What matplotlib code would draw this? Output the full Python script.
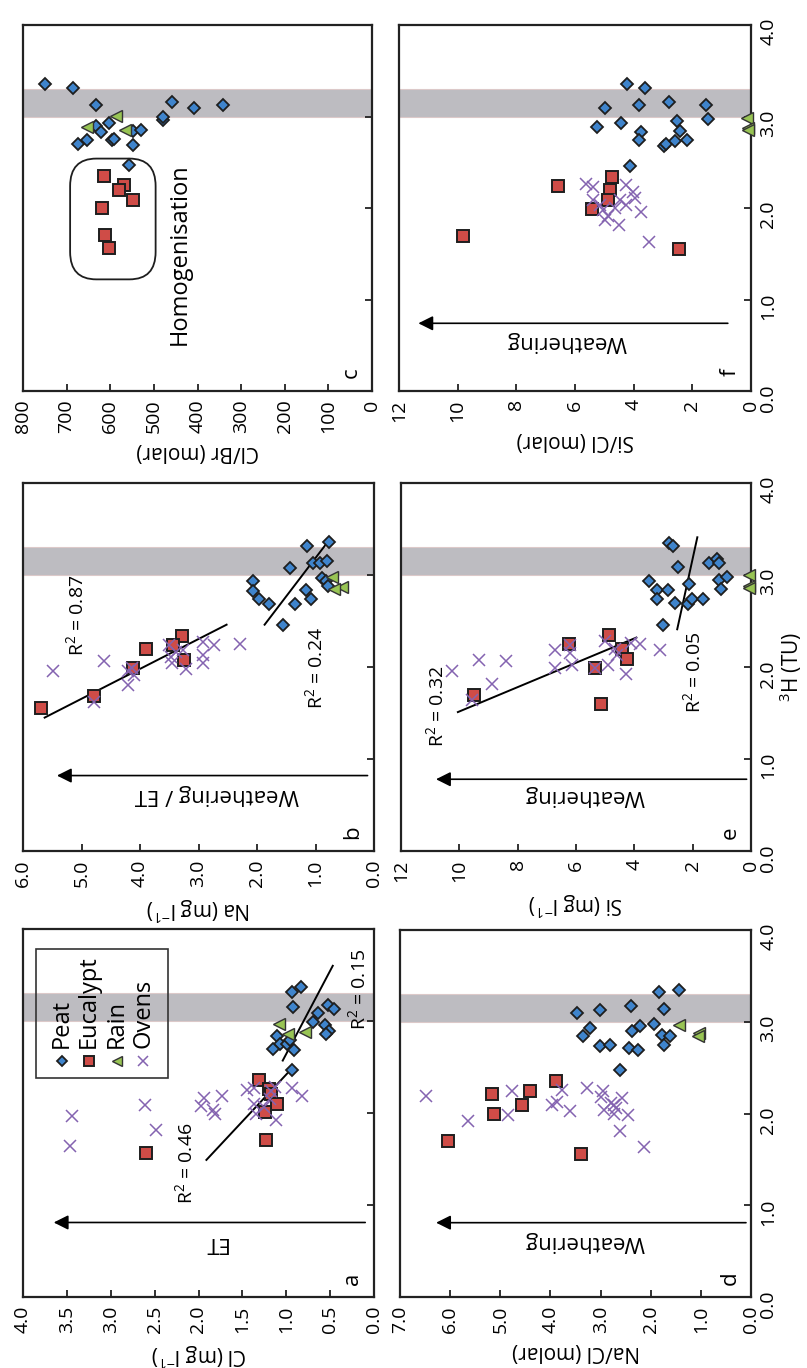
import numpy as np
import matplotlib
matplotlib.use('Agg')
import matplotlib.pyplot as plt
from matplotlib.patches import Rectangle, FancyBboxPatch

plt.rcParams['font.family'] = ['Open Sans', 'DejaVu Sans']
plt.rcParams['mathtext.fontset'] = 'custom'
plt.rcParams['mathtext.rm'] = 'Open Sans'
plt.rcParams['mathtext.it'] = 'Open Sans:italic'
plt.rcParams['mathtext.bf'] = 'Open Sans:bold'

# ---------------- data ----------------
h_ticks = [0, 1, 2, 3, 4]
h_ticklabels = ['0.0', '1.0', '2.0', '3.0', '4.0']

# panel a : Cl (mg/l)
a_ticks = [0, 0.5, 1, 1.5, 2, 2.5, 3, 3.5, 4]
a_ticklabels = ['0.0', '0.5', '1.0', '1.5', '2.0', '2.5', '3.0', '3.5', '4.0']
a_peat_h = [3.32, 3.37, 3.15, 3.17, 3.13, 3.09, 2.99, 2.96, 2.89, 2.86, 2.84, 2.75, 2.70, 2.75, 2.79, 2.69, 2.47]
a_peat_v = [0.94, 0.83, 0.92, 0.52, 0.46, 0.64, 0.70, 0.56, 0.51, 0.55, 1.10, 1.07, 1.15, 0.99, 0.96, 0.91, 0.93]
a_rain_h = [2.97, 2.86, 2.88]
a_rain_v = [1.08, 0.98, 0.79]
a_euc_h = [2.36, 2.26, 2.21, 2.10, 2.01, 1.71, 1.56]
a_euc_v = [1.31, 1.20, 1.17, 1.10, 1.24, 1.23, 2.60]
a_ov_h = [1.97, 1.64, 2.09, 1.81, 2.16, 2.08, 2.19, 2.03, 1.99, 2.25, 2.27, 2.10, 1.99, 2.24, 2.28, 2.15, 2.06, 1.92, 2.27, 2.19]
a_ov_v = [3.44, 3.46, 2.61, 2.49, 1.94, 1.97, 1.73, 1.84, 1.81, 1.45, 1.37, 1.37, 1.34, 1.17, 1.13, 1.18, 1.25, 1.12, 0.93, 0.82]
a_fit1_h = [1.49, 2.50]
a_fit1_v = [1.91, 0.92]
a_fit2_h = [2.57, 3.60]
a_fit2_v = [1.04, 0.47]

# panel b : Na (mg/l)
b_ticks = [0, 1, 2, 3, 4, 5, 6]
b_ticklabels = ['0.0', '1.0', '2.0', '3.0', '4.0', '5.0', '6.0']
b_peat_h = [3.36, 3.31, 3.08, 3.13, 3.13, 3.15, 2.97, 2.93, 2.88, 2.93, 2.83, 2.74, 2.69, 2.84, 2.74, 2.68, 2.46]
b_peat_v = [0.77, 1.14, 1.43, 1.04, 0.92, 0.80, 0.89, 0.82, 0.78, 2.06, 2.06, 1.97, 1.80, 1.17, 1.07, 1.35, 1.56]
b_rain_h = [2.98, 2.87, 2.85]
b_rain_v = [0.72, 0.54, 0.68]
b_euc_h = [2.34, 2.24, 2.20, 2.08, 1.99, 1.69, 1.55]
b_euc_v = [3.28, 3.43, 3.90, 3.24, 4.12, 4.78, 5.69]
b_ov_h = [1.96, 2.07, 1.62, 1.96, 1.91, 1.80, 2.24, 2.11, 2.04, 2.16, 1.98, 2.13, 2.04, 2.27, 2.24, 2.25, 2.18, 1.99]
b_ov_v = [5.49, 4.62, 4.78, 4.21, 4.10, 4.21, 3.50, 3.47, 3.45, 3.38, 3.21, 2.93, 2.93, 2.93, 2.73, 2.29, 3.27, 4.14]
b_fit1_h = [1.45, 2.46]
b_fit1_v = [5.63, 2.52]
b_fit2_h = [2.46, 3.36]
b_fit2_v = [1.87, 0.79]

# panel c : Cl/Br (molar)
c_ticks = [0, 100, 200, 300, 400, 500, 600, 700, 800]
c_ticklabels = ['0', '100', '200', '300', '400', '500', '600', '700', '800']
c_peat_h = [3.35, 3.31, 3.13, 3.16, 3.09, 3.13, 2.96, 2.99, 2.90, 2.93, 2.83, 2.84, 2.85, 2.74, 2.70, 2.74, 2.75, 2.69, 2.47]
c_peat_v = [750, 685, 632, 458, 408, 342, 479, 480, 632, 602, 622, 548, 529, 653, 673, 596, 591, 547, 556]
c_rain_h = [3.01, 2.88, 2.85]
c_rain_v = [586, 654, 566]
c_euc_h = [2.35, 2.25, 2.20, 2.09, 2.00, 1.70, 1.56]
c_euc_v = [614, 568, 581, 547, 619, 612, 602]

# panel d : Na/Cl (molar)
d_ticks = [0, 1, 2, 3, 4, 5, 6, 7]
d_ticklabels = ['0.0', '1.0', '2.0', '3.0', '4.0', '5.0', '6.0', '7.0']
d_peat_h = [3.32, 3.35, 3.17, 3.14, 3.10, 3.13, 2.98, 2.95, 2.90, 2.93, 2.84, 2.86, 2.84, 2.75, 2.74, 2.75, 2.71, 2.69, 2.47]
d_peat_v = [1.83, 1.43, 2.39, 1.74, 3.47, 3.02, 1.93, 2.21, 2.38, 3.22, 3.36, 1.78, 1.61, 1.73, 3.02, 2.82, 2.43, 2.26, 2.61]
d_rain_h = [2.97, 2.88, 2.85]
d_rain_v = [1.43, 1.03, 1.05]
d_euc_h = [2.35, 2.25, 2.21, 2.09, 1.99, 1.70, 1.56]
d_euc_v = [3.89, 4.40, 5.16, 4.57, 5.13, 6.04, 3.39]
d_ov_h = [2.19, 1.92, 2.25, 1.98, 2.26, 2.13, 2.09, 2.03, 2.28, 2.24, 2.18, 2.17, 2.09, 2.06, 2.04, 1.99, 1.98, 1.81, 1.63, 2.11]
d_ov_v = [6.48, 5.65, 4.77, 4.84, 3.76, 3.87, 3.96, 3.61, 3.27, 2.96, 2.99, 2.58, 2.74, 2.69, 2.94, 2.73, 2.46, 2.61, 2.13, 2.79]

# panel e : Si (mg/l)
e_ticks = [0, 2, 4, 6, 8, 10, 12]
e_ticklabels = ['0', '2', '4', '6', '8', '10', '12']
e_peat_h = [3.35, 3.32, 3.09, 3.13, 3.17, 3.13, 2.93, 2.84, 2.74, 2.84, 2.90, 2.70, 2.69, 2.74, 2.74, 2.95, 2.98, 2.85, 2.46]
e_peat_v = [2.81, 2.69, 2.50, 1.43, 1.16, 1.09, 3.49, 3.24, 3.24, 2.83, 2.12, 2.60, 2.15, 2.02, 1.64, 1.09, 0.83, 1.03, 3.01]
e_rain_h = [3.00, 2.88, 2.86]
e_rain_v = [0.08, 0.06, 0.06]
e_euc_h = [2.35, 2.25, 2.20, 2.09, 1.99, 1.70, 1.60]
e_euc_v = [4.87, 6.24, 4.44, 4.25, 5.36, 9.50, 5.13]
e_ov_h = [1.96, 2.08, 2.06, 1.81, 1.64, 2.19, 1.99, 2.24, 2.15, 2.02, 1.99, 2.28, 2.02, 2.13, 1.92, 2.26, 2.25, 2.18, 2.20]
e_ov_v = [10.25, 9.33, 8.39, 8.89, 9.57, 6.73, 6.73, 6.19, 6.19, 6.13, 5.36, 5.02, 4.90, 4.61, 4.27, 4.10, 3.81, 3.13, 4.67]
e_fit1_h = [1.51, 2.32]
e_fit1_v = [10.05, 3.93]
e_fit2_h = [2.41, 3.41]
e_fit2_v = [2.53, 1.84]

# panel f : Si/Cl (molar)
f_ticks = [0, 2, 4, 6, 8, 10, 12]
f_ticklabels = ['0', '2', '4', '6', '8', '10', '12']
f_peat_h = [3.35, 3.31, 3.09, 3.13, 3.16, 3.13, 2.97, 2.95, 2.89, 2.93, 2.83, 2.84, 2.74, 2.68, 2.70, 2.73, 2.74, 2.46]
f_peat_v = [4.23, 3.63, 4.97, 3.83, 2.79, 1.53, 1.46, 2.51, 5.24, 4.42, 3.74, 2.41, 3.83, 2.98, 2.89, 2.58, 2.19, 4.11]
f_rain_h = [2.98, 2.87, 2.85]
f_rain_v = [0.12, 0.09, 0.09]
f_euc_h = [2.34, 2.24, 2.20, 2.09, 1.99, 1.69, 1.55]
f_euc_v = [4.73, 6.57, 4.82, 4.89, 5.43, 9.83, 2.47]
f_ov_h = [2.26, 2.23, 2.25, 2.17, 2.11, 1.96, 2.09, 2.03, 2.00, 1.98, 1.91, 1.81, 1.63, 2.09, 2.03, 1.87]
f_ov_v = [5.64, 5.39, 4.25, 4.03, 3.97, 3.74, 4.48, 4.25, 4.65, 5.05, 4.88, 4.50, 3.48, 5.39, 5.16, 4.99]

band_h = [3.0, 3.3]
series_names = ['Peat', 'Eucalypt', 'Rain', 'Ovens']

# ---------------- styles ----------------
PEAT = dict(marker='D', ms=6.2, mfc='#3f84cc', mec='#1e1e1e', mew=1.3, ls='none', zorder=3)
EUC = dict(marker='s', ms=8.2, mfc='#cf4c47', mec='#1e1e1e', mew=1.4, ls='none', zorder=3)
RAIN = dict(marker='<', ms=8.5, mfc='#98c454', mec='#333333', mew=1.0, ls='none', zorder=3)
OVENS = dict(marker='x', ms=9, mec='#8463b0', mew=1.1, ls='none', zorder=4)

W, H = 807, 1368
fig = plt.figure(figsize=(W / 100, H / 100), dpi=100)


def rect(x0, x1, y0, y1):
    return [x0 / W, 1 - y1 / H, (x1 - x0) / W, (y1 - y0) / H]


TICK_FS = 14
LABEL_FS = 15
ANN_FS = 16


def setup(ax, ticks, ticklabels, vlabel, show_h_labels, letter):
    ax.set_xlim(ticks[-1], 0)
    ax.set_ylim(h_ticks[0], h_ticks[-1])
    ax.axhspan(band_h[0], band_h[1], facecolor='#bdbcc1', edgecolor='#dcc9c9', lw=0.8, zorder=0)
    ax.set_xticks(ticks)
    ax.set_xticklabels(ticklabels, rotation=90, fontsize=TICK_FS)
    ax.yaxis.tick_right()
    ax.set_yticks(h_ticks)
    if show_h_labels:
        ax.set_yticklabels(h_ticklabels, rotation=90, fontsize=TICK_FS)
    else:
        ax.set_yticklabels([])
    ax.tick_params(axis='both', direction='in', length=5, width=1.3, pad=6, color='#222222')
    for s in ax.spines.values():
        s.set_linewidth(1.6)
        s.set_color('#222222')
    ax.set_xlabel(vlabel, rotation=180, fontsize=LABEL_FS, labelpad=6)
    ax.text(0.94, 0.05, letter, rotation=90, transform=ax.transAxes, fontsize=ANN_FS,
            ha='center', va='center')


def scatter_all(ax, peat, euc, rain, ov):
    ax.plot(peat[1], peat[0], **PEAT)
    ax.plot(euc[1], euc[0], **EUC)
    ax.plot(rain[1], rain[0], clip_on=False, **RAIN)
    if ov is not None:
        ax.plot(ov[1], ov[0], **OVENS)


def fit_line(ax, hs, vs):
    ax.plot(vs, hs, color='black', lw=1.4, zorder=2)


def arrow(ax, h, v_tail, v_head, label, lv, lh):
    ax.annotate('', xy=(v_head, h), xytext=(v_tail, h),
                arrowprops=dict(arrowstyle='-|>', color='black', lw=1.2,
                                mutation_scale=22, shrinkA=0, shrinkB=0))
    ax.text(lv, lh, label, rotation=180, ha='center', va='center', fontsize=ANN_FS)


def r2(ax, v, h, txt):
    ax.text(v, h, r'R$^{2}$ = ' + txt, rotation=90, ha='center', va='center', fontsize=TICK_FS)


mg = r' (mg l$^{-1}$)'

# ---- panel c (top-left)
ax_c = fig.add_axes(rect(23, 372, 25, 391))
setup(ax_c, c_ticks, c_ticklabels, 'Cl/Br (molar)', False, 'c')
scatter_all(ax_c, (c_peat_h, c_peat_v), (c_euc_h, c_euc_v), (c_rain_h, c_rain_v), None)
ax_c.add_patch(FancyBboxPatch((0.175, 0.345), 0.165, 0.25, boxstyle='round,pad=0.04,rounding_size=0.075',
                              transform=ax_c.transAxes, fill=False, ec='#1e1e1e', lw=1.3, zorder=2))
ax_c.text(441, 1.50, 'Homogenisation', rotation=90, ha='center', va='center', fontsize=ANN_FS + 1)

# ---- panel f (top-right)
ax_f = fig.add_axes(rect(399, 751, 25, 391))
setup(ax_f, f_ticks, f_ticklabels, 'Si/Cl (molar)', True, 'f')
scatter_all(ax_f, (f_peat_h, f_peat_v), (f_euc_h, f_euc_v), (f_rain_h, f_rain_v), (f_ov_h, f_ov_v))
arrow(ax_f, 0.74, 0.79, 11.34, 'Weathering', 6.3, 0.54)

# ---- panel b (middle-left)
ax_b = fig.add_axes(rect(23, 374, 483, 851))
setup(ax_b, b_ticks, b_ticklabels, 'Na' + mg, False, 'b')
scatter_all(ax_b, (b_peat_h, b_peat_v), (b_euc_h, b_euc_v), (b_rain_h, b_rain_v), (b_ov_h, b_ov_v))
fit_line(ax_b, b_fit1_h, b_fit1_v)
fit_line(ax_b, b_fit2_h, b_fit2_v)
r2(ax_b, 5.09, 2.56, '0.87')
r2(ax_b, 1.0, 1.99, '0.24')
arrow(ax_b, 0.82, 0.11, 5.42, 'Weathering / ET', 2.68, 0.61)

# ---- panel e (middle-right)
ax_e = fig.add_axes(rect(401, 751, 483, 851))
setup(ax_e, e_ticks, e_ticklabels, 'Si' + mg, True, 'e')
scatter_all(ax_e, (e_peat_h, e_peat_v), (e_euc_h, e_euc_v), (e_rain_h, e_rain_v), (e_ov_h, e_ov_v))
fit_line(ax_e, e_fit1_h, e_fit1_v)
fit_line(ax_e, e_fit2_h, e_fit2_v)
r2(ax_e, 10.8, 1.57, '0.32')
r2(ax_e, 1.98, 1.94, '0.05')
arrow(ax_e, 0.78, 0.15, 10.8, 'Weathering', 5.7, 0.60)
ax_e.yaxis.set_label_position('right')
ax_e.set_ylabel(r'$^{3}$H (TU)', rotation=90, fontsize=LABEL_FS, labelpad=0)

# ---- panel a (bottom-left)
ax_a = fig.add_axes(rect(23, 374, 929, 1297))
setup(ax_a, a_ticks, a_ticklabels, 'Cl' + mg, False, 'a')
scatter_all(ax_a, (a_peat_h, a_peat_v), (a_euc_h, a_euc_v), (a_rain_h, a_rain_v), (a_ov_h, a_ov_v))
fit_line(ax_a, a_fit1_h, a_fit1_v)
fit_line(ax_a, a_fit2_h, a_fit2_v)
r2(ax_a, 2.15, 1.45, '0.46')
r2(ax_a, 0.18, 3.34, '0.15')
arrow(ax_a, 0.81, 0.10, 3.65, 'ET', 1.82, 0.59)

# manual rotated legend
ax_a.add_patch(Rectangle((0.038, 0.595), 0.376, 0.351, transform=ax_a.transAxes,
                         fill=False, ec='#333333', lw=1.2, zorder=5))
leg_styles = [PEAT, EUC, RAIN, OVENS]
leg_x = [0.111, 0.187, 0.268, 0.343]
for x, st, name in zip(leg_x, leg_styles, series_names):
    st2 = dict(st)
    st2['ms'] = st['ms'] * 0.8
    st2['zorder'] = 6
    ax_a.plot([x], [0.642], transform=ax_a.transAxes, clip_on=False, **st2)
    ax_a.text(x, 0.676, name, rotation=90, ha='center', va='bottom', transform=ax_a.transAxes,
              fontsize=ANN_FS + 1, zorder=6)

# ---- panel d (bottom-right)
ax_d = fig.add_axes(rect(400, 751, 930, 1297))
setup(ax_d, d_ticks, d_ticklabels, 'Na/Cl (molar)', True, 'd')
scatter_all(ax_d, (d_peat_h, d_peat_v), (d_euc_h, d_euc_v), (d_rain_h, d_rain_v), (d_ov_h, d_ov_v))
arrow(ax_d, 0.81, 0.10, 6.28, 'Weathering', 3.32, 0.61)

fig.savefig('out.png', dpi=100)
